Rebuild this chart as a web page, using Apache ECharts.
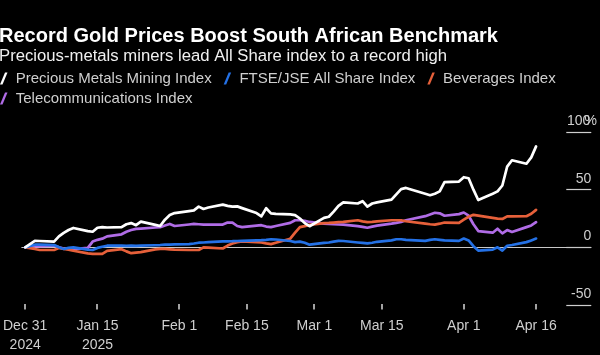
<!DOCTYPE html>
<html>
<head>
<meta charset="utf-8">
<script src="https://cdn.jsdelivr.net/npm/echarts@6/dist/echarts.min.js"></script>
<style>
html,body{margin:0;padding:0;background:#000;}
#main{width:600px;height:355px;}
</style>
</head>
<body>
<div id="main"></div>
<script>
const titleText = 'Record Gold Prices Boost South African Benchmark';
const subtitleText = 'Precious-metals miners lead All Share index to a record high';
const seriesNames = ['Precious Metals Mining Index', 'FTSE/JSE All Share Index', 'Beverages Index', 'Telecommunications Index'];

const dates = ['2024-12-31',
 '2025-01-02','2025-01-03','2025-01-06','2025-01-07','2025-01-08','2025-01-09','2025-01-10','2025-01-13','2025-01-14','2025-01-15','2025-01-16','2025-01-17','2025-01-20','2025-01-21','2025-01-22','2025-01-23','2025-01-24','2025-01-27','2025-01-28','2025-01-29','2025-01-30','2025-01-31',
 '2025-02-03','2025-02-04','2025-02-05','2025-02-06','2025-02-07','2025-02-10','2025-02-11','2025-02-12','2025-02-13','2025-02-14','2025-02-17','2025-02-18','2025-02-19','2025-02-20','2025-02-21','2025-02-24','2025-02-25','2025-02-26','2025-02-27','2025-02-28',
 '2025-03-03','2025-03-04','2025-03-05','2025-03-06','2025-03-07','2025-03-10','2025-03-11','2025-03-12','2025-03-13','2025-03-14','2025-03-17','2025-03-18','2025-03-19','2025-03-20','2025-03-24','2025-03-25','2025-03-26','2025-03-27','2025-03-28','2025-03-31',
 '2025-04-01','2025-04-02','2025-04-03','2025-04-04','2025-04-07','2025-04-08','2025-04-09','2025-04-10','2025-04-11','2025-04-14','2025-04-15','2025-04-16'];

const preciousMetals = [0,
 5.6,5.5,5,9.5,12.5,15,16.8,14,13.5,17,17.5,17.2,17.5,20,21,19.2,22.3,19.5,18.5,24,28,29.7,
 31.4,32,35.3,33.3,34.5,37,36,35.3,35.5,34,29.7,26.8,33.9,29.5,29,28.5,28,25,21,18.3,
 25.5,26.5,31,36,39,38,40,35.3,38,39,41.3,46,50.5,51.5,46.5,45.2,46.5,48.5,56.5,57,
 60.8,59.9,50,41,46.5,48.5,53.6,70,75.5,72.5,78,87.5];

const allShare = [0,
 2.3,2.3,2,0,-1.4,-0.5,0,-2,-2.3,-0.5,0.5,1.4,1.4,1.2,1.4,1.2,1.4,1.8,2,2.3,2.4,2.6,
 2.8,3.3,4,4.2,4.5,5.1,5.2,5.3,5.5,5.6,6,6.2,6.5,7,6.8,5.5,4.5,5,4,2.3,
 3.8,4.2,5,5.6,5.5,4.2,3.8,3.4,4,4.8,6,7,7,6.5,5.6,6.5,7,6.5,6,5.6,
 7.6,6,1,-2.8,-2,0,-2.8,1.4,2,4.5,6,7.6];

const beverages = [0,
 -1.4,-2.3,-2.3,-0.6,-1.4,-2,-3,-5.3,-5.6,-5.6,-5.6,-3,-1.6,-3.5,-5.1,-4.6,-4.2,-1.8,-1.4,-1.4,-1.7,-2,
 -2.3,-2.3,-2.3,0,-0.3,-1,1.5,3.4,4.5,5.1,4.5,4.2,3.4,2.8,4,7.5,12.7,17.5,18.4,19.5,
 21,21.2,21.5,21.8,22,23.5,22.5,21.8,22,22.5,23.5,23.5,23.5,22.6,20.6,20,19.7,20.5,21.5,21.2,
 24,26.5,28.2,27.5,25.5,24.9,24.6,26.8,26.8,27,29.1,32.5];

const telecoms = [0,
 1,1,1.5,0,-1,-1,-1.5,-0.5,5,6.5,7.5,9.5,11.3,13.5,15,16,16.3,17.2,17.5,19,20.3,18.5,
 19.8,20.3,20,19.7,19.7,19.7,21.5,21.5,18.5,17.5,18.8,19.2,18,17.5,18.5,21.2,23.5,23.5,23,22,
 20.5,20.3,20,19.8,19.7,18.4,17.8,17,18,18.8,20.5,21.2,22,23.5,27,28.5,30,29.5,27.4,28.8,
 30.2,27.4,20,14.1,12.7,16.1,12.1,15,13.3,17.5,19,21.8];

const xTickDates = ['2024-12-31','2025-01-15','2025-02-01','2025-02-15','2025-03-01','2025-03-15','2025-04-01','2025-04-16'];
const xTickLabels = ['Dec 31\n2024','Jan 15\n2025','Feb 1','Feb 15','Mar 1','Mar 15','Apr 1','Apr 16'];
const yTicks = [-50, 0, 50, 100];

const colors = ['#ffffff', '#2471e6', '#e6603a', '#b06ce6'];
const FONT = 'Liberation Sans';
const DAY = 86400000;

// day number counted from the first date
function dayNum(s) {
  const p = s.split('-').map(Number);
  const q = dates[0].split('-').map(Number);
  return Math.round((Date.UTC(p[0], p[1] - 1, p[2]) - Date.UTC(q[0], q[1] - 1, q[2])) / DAY);
}
const xs = dates.map(dayNum);
const tickDays = xTickDates.map(dayNum);
const xMin = xs[0] - 0.78;
const xMax = xs[xs.length - 1] + 11.45;

const valueSets = [preciousMetals, allShare, beverages, telecoms];
const zs = [6, 5, 4, 3];

const series = valueSets.map((vals, k) => ({
  name: seriesNames[k],
  type: 'line',
  data: xs.map((t, i) => [t, vals[i]]),
  showSymbol: false,
  symbol: 'none',
  z: zs[k],
  lineStyle: { width: 2.7, color: colors[k], cap: 'round', join: 'round' },
  itemStyle: { color: colors[k] },
  emphasis: { disabled: true },
  silent: true
}));
series[3].markLine = {
  silent: true, symbol: ['none', 'none'], z: 1,
  label: { show: false },
  lineStyle: { color: '#c8c8c8', width: 1.2, type: 'solid' },
  data: [{ yAxis: 0 }]
};

const icon = 'path://M0,12 L5,0 L7.5,0 L2.5,12 Z';
const legendText = { color: '#cfcfcf', fontSize: 15, fontFamily: FONT };

const option = {
  backgroundColor: '#000',
  animation: false,
  textStyle: { fontFamily: FONT },
  title: [
    { text: titleText, left: -1, top: 26, padding: 0,
      textStyle: { color: '#fff', fontSize: 20, fontWeight: 'bold', fontFamily: FONT } },
    { text: subtitleText, left: -1, top: 48, padding: 0,
      textStyle: { color: '#f0f0f0', fontSize: 16.7, fontWeight: 'normal', fontFamily: FONT } }
  ],
  legend: [
    { data: seriesNames.slice(0, 3), left: 0, top: 71, padding: 0, itemWidth: 14, itemHeight: 12, itemGap: 12,
      icon: icon, selectedMode: false, textStyle: legendText },
    { data: seriesNames.slice(3), left: 0, top: 91, padding: 0, itemWidth: 14, itemHeight: 12, itemGap: 12,
      icon: icon, selectedMode: false, textStyle: legendText }
  ],
  grid: { left: 20, right: 7, top: 132, bottom: 46, containLabel: false },
  xAxis: {
    type: 'value', min: xMin, max: xMax,
    axisLine: { show: false, onZero: false },
    splitLine: { show: false },
    axisTick: { show: false },
    axisLabel: {
      customValues: tickDays, color: '#cfcfcf', fontSize: 14, lineHeight: 19, margin: 12, fontFamily: FONT,
      hideOverlap: false, showMinLabel: true, showMaxLabel: true,
      formatter: function (v) { const i = tickDays.indexOf(v); return i >= 0 ? xTickLabels[i] : ''; }
    }
  },
  yAxis: {
    type: 'value', position: 'right', min: yTicks[0], max: yTicks[yTicks.length - 1], interval: 50,
    axisLine: { show: false, onZero: false },
    splitLine: { show: false },
    axisTick: { show: true, inside: true, length: 25, lineStyle: { color: '#cfcfcf', width: 1.2 } },
    axisLabel: {
      inside: true, margin: 0, verticalAlign: 'bottom', padding: [0, 0, 4, 0],
      color: '#cfcfcf', fontSize: 14, fontFamily: FONT,
      formatter: function (v) { return v === 100 ? '{n|100}{p|%}' : String(v); },
      rich: {
        n: { color: '#cfcfcf', fontSize: 14, fontFamily: FONT },
        p: { color: '#cfcfcf', fontSize: 14, fontFamily: FONT, width: 1, align: 'left' }
      }
    }
  },
  series: series
};

const chart = echarts.init(document.getElementById('main'), null, { renderer: 'canvas' });
chart.setOption(option);

// x-axis tick marks placed through the chart's own scale
const tickEls = tickDays.map(function (d) {
  const p = chart.convertToPixel({ xAxisIndex: 0, yAxisIndex: 0 }, [d, yTicks[0]]);
  const x = Math.round(p[0]);
  return { type: 'rect', silent: true, z: 10,
    shape: { x: x - 0.75, y: p[1] - 1, width: 1.5, height: 5.5 },
    style: { fill: '#d8d8d8' } };
});
chart.setOption({ graphic: { elements: tickEls } });
</script>
</body>
</html>
